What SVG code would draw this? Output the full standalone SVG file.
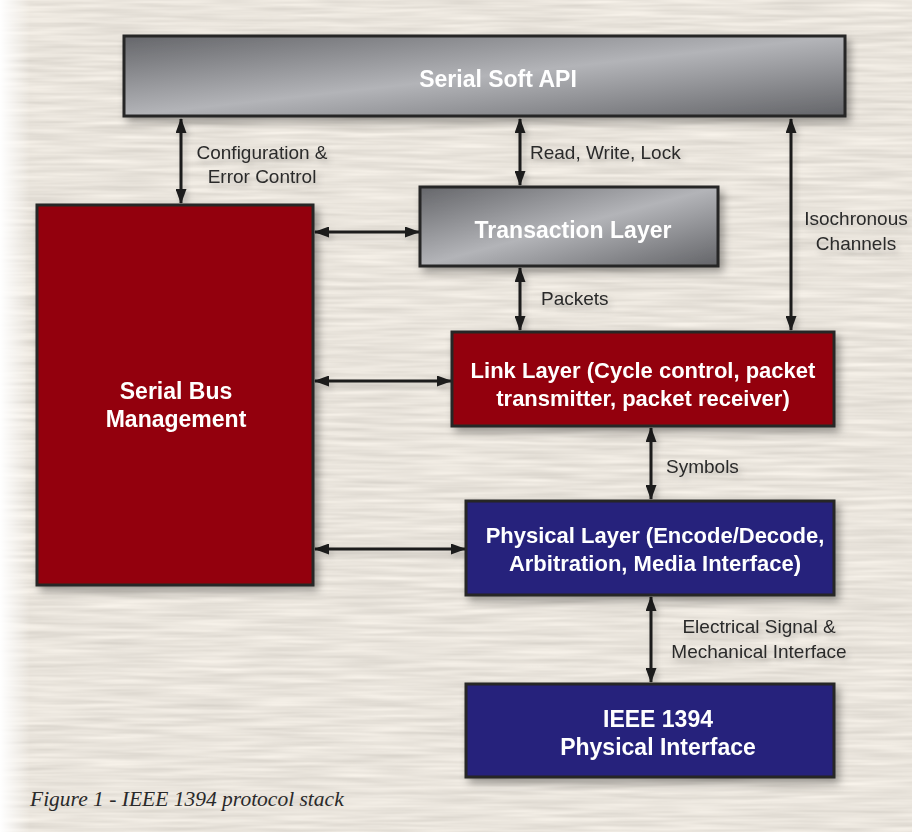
<svg xmlns="http://www.w3.org/2000/svg" width="912" height="832" viewBox="0 0 912 832">
<style>
.box{stroke:#262626;stroke-width:3}
.red{fill:#930008}
.navy{fill:#25237b}
.grey{fill:url(#gg)}
.bt{font-family:"Liberation Sans",Arial,sans-serif;font-weight:bold;font-size:23px;fill:#fff;text-anchor:middle}
.bs{font-size:22px}
.lb{font-family:"Liberation Sans",Arial,sans-serif;font-size:19px;fill:#2a2a2a}
.cn{stroke:#1c1c1c;stroke-width:3;fill:none;marker-start:url(#ah);marker-end:url(#ah)}
.cap{font-family:"Liberation Serif","Times New Roman",serif;font-style:italic;font-size:21.5px;fill:#2a2a2a}
</style>
<defs>
<linearGradient id="gg" x1="0" y1="0" x2="1" y2="1" gradientUnits="objectBoundingBox">
<stop offset="0" stop-color="#65666a"/>
<stop offset="0.5" stop-color="#b3b4b8"/>
<stop offset="1" stop-color="#636468"/>
</linearGradient>
<linearGradient id="lf" x1="0" y1="0" x2="1" y2="0">
<stop offset="0" stop-color="#fff" stop-opacity="1"/>
<stop offset="1" stop-color="#fff" stop-opacity="0"/>
</linearGradient>
<filter id="paper" x="0" y="0" width="100%" height="100%" color-interpolation-filters="sRGB">
<feTurbulence type="fractalNoise" baseFrequency="0.012 0.22" numOctaves="2" seed="7" result="n"/>
<feColorMatrix in="n" type="matrix" values="0.16 0 0 0 0.835  0.16 0 0 0 0.815  0.16 0 0 0 0.783  0 0 0 0 1"/>
</filter>
<filter id="sh" x="-10%" y="-10%" width="130%" height="140%">
<feDropShadow dx="4" dy="5" stdDeviation="4" flood-color="#000" flood-opacity="0.35"/>
</filter>
<filter id="ts" x="-10%" y="-20%" width="130%" height="160%">
<feDropShadow dx="3" dy="4" stdDeviation="3" flood-color="#000" flood-opacity="0.2"/>
</filter>
<marker id="ah" viewBox="0 0 15 11" refX="14" refY="5.5" markerWidth="15" markerHeight="11" markerUnits="userSpaceOnUse" orient="auto-start-reverse">
<path d="M0,0 L15,5.5 L0,11 Z" fill="#1c1c1c"/>
</marker>
</defs>
<rect width="912" height="832" fill="#e8e3dc"/>
<rect width="912" height="832" filter="url(#paper)"/>
<rect width="30" height="832" fill="url(#lf)"/>

<g id="connectors" filter="url(#ts)">
<line class="cn" x1="181" y1="119" x2="181" y2="203"/>
<line class="cn" x1="520" y1="119" x2="520" y2="185"/>
<line class="cn" x1="791" y1="119" x2="791" y2="330"/>
<line class="cn" x1="315" y1="232" x2="419" y2="232"/>
<line class="cn" x1="520" y1="268" x2="520" y2="330"/>
<line class="cn" x1="315" y1="381" x2="451" y2="381"/>
<line class="cn" x1="651" y1="428" x2="651" y2="499"/>
<line class="cn" x1="315" y1="549" x2="465" y2="549"/>
<line class="cn" x1="651" y1="597" x2="651" y2="682"/>
</g>

<g id="labels" filter="url(#ts)">
<text class="lb" x="262" y="159" text-anchor="middle">Configuration &amp;</text>
<text class="lb" x="262" y="183" text-anchor="middle">Error Control</text>
<text class="lb" x="530" y="159">Read, Write, Lock</text>
<text class="lb" x="856" y="225" text-anchor="middle">Isochronous</text>
<text class="lb" x="856" y="250" text-anchor="middle">Channels</text>
<text class="lb" x="541" y="305">Packets</text>
<text class="lb" x="666" y="473">Symbols</text>
<text class="lb" x="759" y="633" text-anchor="middle">Electrical Signal &amp;</text>
<text class="lb" x="759" y="658" text-anchor="middle">Mechanical Interface</text>
</g>

<g id="serial-soft-api" filter="url(#sh)">
<rect class="box grey" x="124" y="36" width="721" height="80"/>
<text class="bt" x="498" y="87">Serial Soft API</text>
</g>

<g id="transaction-layer" filter="url(#sh)">
<rect class="box grey" x="420" y="187" width="298" height="79"/>
<text class="bt" x="573" y="238">Transaction Layer</text>
</g>

<g id="serial-bus-management" filter="url(#sh)">
<rect class="box red" x="37" y="205" width="276" height="380"/>
<text class="bt" x="176" y="399">Serial Bus</text>
<text class="bt" x="176" y="427">Management</text>
</g>

<g id="link-layer" filter="url(#sh)">
<rect class="box red" x="452" y="332" width="382" height="94"/>
<text class="bt bs" x="643" y="378">Link Layer (Cycle control, packet</text>
<text class="bt bs" x="643" y="406">transmitter, packet receiver)</text>
</g>

<g id="physical-layer" filter="url(#sh)">
<rect class="box navy" x="466" y="501" width="368" height="94"/>
<text class="bt bs" x="655" y="543">Physical Layer (Encode/Decode,</text>
<text class="bt bs" x="655" y="571">Arbitration, Media Interface)</text>
</g>

<g id="ieee-1394" filter="url(#sh)">
<rect class="box navy" x="466" y="684" width="368" height="93"/>
<text class="bt" x="658" y="727">IEEE 1394</text>
<text class="bt" x="658" y="755">Physical Interface</text>
</g>

<text class="cap" x="30" y="806">Figure 1 - IEEE 1394 protocol stack</text>
</svg>
